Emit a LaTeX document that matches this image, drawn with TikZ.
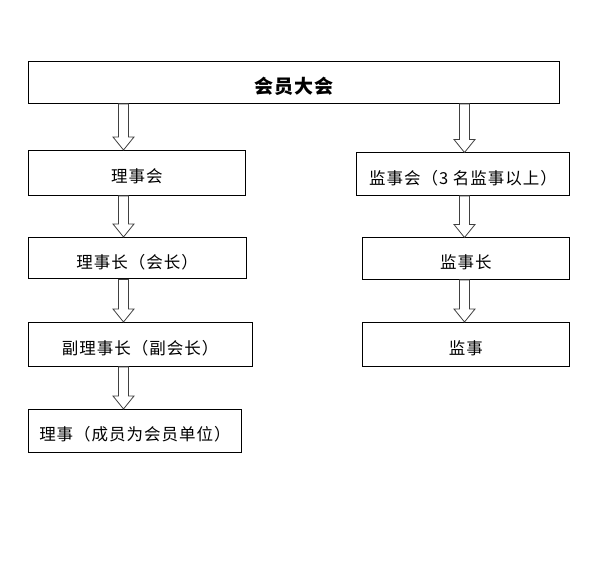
\documentclass[tikz,border=0pt]{standalone}
\usepackage{fontspec}
\setmainfont[LetterSpace=6]{Noto Sans CJK SC}
\usepackage{tikz}
\usetikzlibrary{calc}

% hollow block arrow: x position, from node, to node
\newcommand{\hollowarrow}[3]{%
  \draw[hollow] let \p1=(#2.south), \p2=(#3.north) in
    ({#1pt-5pt},\y1) -- ({#1pt+5pt},\y1) -- ({#1pt+5pt},\y2+13pt) -- ({#1pt+10.5pt},\y2+13pt)
    -- ({#1pt},\y2) -- ({#1pt-10.5pt},\y2+13pt) -- ({#1pt-5pt},\y2+13pt) -- cycle;}

\begin{document}
\begin{tikzpicture}[x=1pt, y=-1pt,
    box/.style={rectangle, draw, line width=0.9pt, anchor=north west, inner sep=0pt,
      text height=20pt, text depth=0pt, font=\fontsize{16.5pt}{18pt}\selectfont},
    hollow/.style={draw=black!75, line width=0.8pt, fill=white}
]
    \useasboundingbox (0,0) rectangle (595,564);

    % Top
    \node[box, minimum width=531pt, minimum height=42pt, text height=21.5pt,
      font=\fontsize{19pt}{21pt}\selectfont\bfseries] (hy) at (28,61) {会员大会};

    % Left column
    \node[box, minimum width=217pt, minimum height=45pt] (lsh) at (28,150) {理事会};
    \node[box, minimum width=217.5pt, minimum height=41.5pt] (lsz) at (28,237) {理事长（会长）};
    \node[box, minimum width=223.5pt, minimum height=44pt] (flsz) at (28,322) {副理事长（副会长）};
    \node[box, minimum width=213pt, minimum height=42.5pt] (ls) at (28,409) {理事（成员为会员单位）};

    % Right column
    \node[box, minimum width=213pt, minimum height=42.5pt] (jsh) at (356,152.5) {监事会（3 名监事以上）};
    \node[box, minimum width=207pt, minimum height=41.5pt] (jsz) at (362,237.5) {监事长};
    \node[box, minimum width=207pt, minimum height=44pt] (js) at (362,322) {监事};

    % Arrows
    \hollowarrow{123.5}{hy}{lsh}
    \hollowarrow{123.5}{lsh}{lsz}
    \hollowarrow{123.5}{lsz}{flsz}
    \hollowarrow{123.5}{flsz}{ls}
    \hollowarrow{464.5}{hy}{jsh}
    \hollowarrow{464.5}{jsh}{jsz}
    \hollowarrow{464.5}{jsz}{js}
\end{tikzpicture}
\end{document}
